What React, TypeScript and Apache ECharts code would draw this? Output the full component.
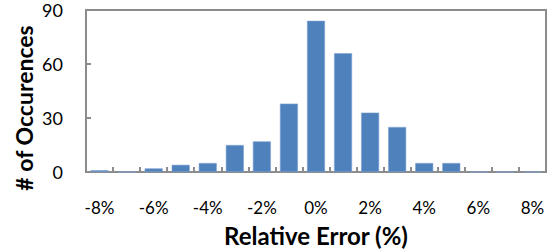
import React, { useEffect, useRef } from "react";
import * as echarts from "echarts";

const categories = ["-8%", "-7%", "-6%", "-5%", "-4%", "-3%", "-2%", "-1%", "0%", "1%", "2%", "3%", "4%", "5%", "6%", "7%", "8%"];
const occurrences = [1, 0, 2, 4, 5, 15, 17, 38, 84, 66, 33, 25, 5, 5, 0, 0, 0];
const yTicks = [0, 30, 60, 90];
const xTitle = "Relative Error (%)";
const yTitle = "# of Occurences";

export default function App() {
  const ref = useRef<HTMLDivElement>(null);
  useEffect(() => {
    const chart = echarts.init(ref.current!, null, { renderer: "svg" });
    const font = "Lato, 'Open Sans', sans-serif";
    chart.setOption({
      animation: false,
      grid: {
        left: 86,
        right: 7,
        top: 10,
        bottom: 80,
        show: true,
        borderColor: "#8c8c8c",
        borderWidth: 2,
      },
      xAxis: {
        type: "category",
        data: categories,
        axisLine: { lineStyle: { color: "#8c8c8c", width: 2 } },
        axisTick: { show: true, inside: true, length: 5, interval: 0, lineStyle: { color: "#8c8c8c", width: 2 } },
        axisLabel: { interval: 1, margin: 27, fontSize: 17, color: "#000", fontFamily: font },
      },
      yAxis: {
        type: "value",
        min: yTicks[0],
        max: yTicks[yTicks.length - 1],
        interval: 30,
        axisLine: { show: true, lineStyle: { color: "#8c8c8c", width: 2 } },
        axisTick: { show: true, inside: true, length: 5, lineStyle: { color: "#8c8c8c", width: 2 } },
        splitLine: { show: false },
        axisLabel: { margin: 23, fontSize: 18, color: "#000", fontFamily: font },
      },
      graphic: [
        {
          type: "text",
          x: 316,
          y: 235,
          style: {
            text: xTitle,
            font: `bold 24px ${font}`,
            fill: "#000",
            align: "center",
            verticalAlign: "middle",
          },
        },
        {
          type: "text",
          x: 24,
          y: 108,
          rotation: Math.PI / 2,
          style: {
            text: yTitle,
            font: `bold 23px ${font}`,
            fill: "#000",
            align: "center",
            verticalAlign: "middle",
          },
        },
      ],
      series: [
        {
          type: "bar",
          data: occurrences,
          barWidth: 18,
          itemStyle: { color: "#4f81bd", borderColor: "#7fa3d0", borderWidth: 0.6 },
        },
      ],
    });
    return () => chart.dispose();
  }, []);
  return <div ref={ref} style={{ width: 553, height: 252, position: "absolute", left: 0, top: 0 }} />;
}
